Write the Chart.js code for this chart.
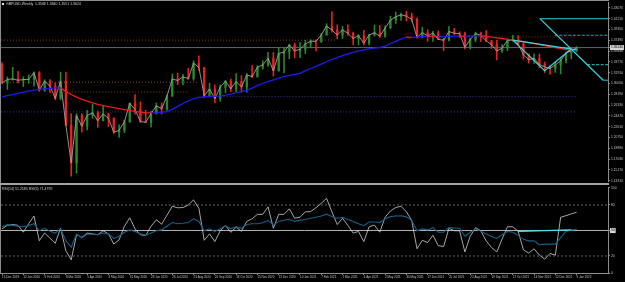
<!DOCTYPE html>
<html><head><meta charset="utf-8">
<script src="https://cdn.jsdelivr.net/npm/chart.js@4.4.0/dist/chart.umd.min.js"></script>
<style>
html,body{margin:0;padding:0;background:#000;width:625px;height:282px;overflow:hidden;}
#wrap{position:relative;width:625px;height:282px;background:#000;}
canvas{position:absolute;left:0;}
#c1{top:0;}
#c2{top:185px;}
.ln{position:absolute;background:#8c8c8c;}
.ttl{position:absolute;font-family:'Liberation Sans',Arial,sans-serif;font-size:7px;color:#d0d0d0;white-space:nowrap;transform:scale(0.5);transform-origin:0 0;}
</style></head>
<body><div id="wrap">
<canvas id="c1" width="625" height="184"></canvas>
<canvas id="c2" width="625" height="97"></canvas>
<div class="ln" style="left:0;top:0;width:609px;height:1px;"></div>
<div class="ln" style="left:0;top:0;width:1px;height:274px;"></div>
<div class="ln" style="left:0;top:183px;width:609px;height:2px;background:#a4a4a4;"></div>
<div style="position:absolute;left:2px;top:3px;width:2px;height:2px;background:#e8e8e8;"></div>
<div class="ttl" style="left:6px;top:2px;">GBPUSD,Weekly&nbsp; 1.3568 1.3640 1.3551 1.3624</div>
<div class="ttl" style="left:2px;top:187px;">RSI(14) 51.2585 RSI(5) 71.4795</div>
</div>
<script>
// ---------- DATA ----------
const dateTicks = ['15 Dec 2019','12 Jan 2020','9 Feb 2020','8 Mar 2020','5 Apr 2020','3 May 2020','31 May 2020','28 Jun 2020','26 Jul 2020','23 Aug 2020','20 Sep 2020','18 Oct 2020','15 Nov 2020','13 Dec 2020','10 Jan 2021','7 Feb 2021','7 Mar 2021','4 Apr 2021','2 May 2021','30 May 2021','27 Jun 2021','25 Jul 2021','22 Aug 2021','19 Sep 2021','17 Oct 2021','14 Nov 2021','12 Dec 2021','9 Jan 2022'];
const priceTicks = [1.4307,1.4121,1.3935,1.3749,1.3563,1.3377,1.3191,1.3005,1.2819,1.2633,1.2447,1.2261,1.2075,1.1889,1.1703,1.1517,1.1331];
const lastPrice = 1.3624;
const rsiTicks = [0,20,50,80,100];
const rsiMarked = 50;

const opens = [1.3330,1.3015,1.3075,1.3085,1.3060,1.3072,1.3078,1.3190,1.2890,1.3045,
1.2960,1.2750,1.3045,1.2285,1.1635,1.2450,1.2270,1.2455,1.2500,1.2365,
1.2480,1.2405,1.2165,1.2200,1.2345,1.2665,1.2555,1.2350,1.2335,1.2485,
1.2620,1.2570,1.2790,1.3085,1.3055,1.3120,1.3090,1.3355,1.3280,1.2795,
1.2910,1.2745,1.2940,1.3045,1.2915,1.3040,1.2945,1.3150,1.3125,1.3285,
1.3325,1.3440,1.3225,1.3520,1.3550,1.3670,1.3565,1.3595,1.3685,1.3735,
1.3730,1.3840,1.3995,1.3925,1.3840,1.3930,1.3870,1.3780,1.3830,1.3700,
1.3840,1.3880,1.3820,1.3960,1.4095,1.4155,1.4190,1.4165,1.4110,1.3800,
1.3880,1.3825,1.3875,1.3765,1.3750,1.3900,1.3870,1.3865,1.3625,1.3765,
1.3865,1.3835,1.3740,1.3675,1.3565,1.3615,1.3745,1.3755,1.3685,1.3500,
1.3415,1.3440,1.3335,1.3290,1.3265,1.3325,1.3395,1.3530,1.3568];
const highs = [1.3364,1.3118,1.3285,1.3215,1.3120,1.3152,1.3207,1.3210,1.3070,1.3073,
1.3010,1.3201,1.3200,1.2485,1.2487,1.2486,1.2541,1.2648,1.2530,1.2615,
1.2495,1.2415,1.2295,1.2375,1.2670,1.2813,1.2687,1.2545,1.2525,1.2670,
1.2670,1.2805,1.3170,1.3185,1.3165,1.3267,1.3395,1.3482,1.3285,1.3008,
1.2982,1.2983,1.3058,1.3083,1.3177,1.3140,1.3177,1.3314,1.3310,1.3398,
1.3540,1.3539,1.3624,1.3625,1.3680,1.3703,1.3710,1.3745,1.3760,1.3757,
1.3865,1.4035,1.4241,1.4015,1.3990,1.4017,1.3890,1.3850,1.3920,1.3850,
1.4010,1.4005,1.4000,1.4165,1.4235,1.4220,1.4249,1.4220,1.4135,1.3975,
1.3930,1.3905,1.3910,1.3785,1.3985,1.3955,1.3895,1.3890,1.3785,1.3890,
1.3890,1.3915,1.3750,1.3750,1.3675,1.3775,1.3835,1.3832,1.3700,1.3515,
1.3515,1.3515,1.3375,1.3315,1.3375,1.3435,1.3550,1.3600,1.3640];
const lows = [1.2999,1.2904,1.3060,1.3012,1.2953,1.3008,1.2961,1.2872,1.2870,1.2848,
1.2726,1.2725,1.2280,1.1409,1.1460,1.2167,1.2207,1.2405,1.2247,1.2360,
1.2265,1.2145,1.2076,1.2160,1.2335,1.2475,1.2335,1.2335,1.2252,1.2480,
1.2480,1.2540,1.2780,1.2985,1.2980,1.3075,1.3060,1.3235,1.2762,1.2770,
1.2676,1.2700,1.2845,1.2863,1.2863,1.2855,1.2855,1.3105,1.3110,1.3250,
1.3300,1.3134,1.3215,1.3188,1.3430,1.3450,1.3450,1.3520,1.3620,1.3565,
1.3710,1.3840,1.3890,1.3775,1.3780,1.3835,1.3670,1.3670,1.3670,1.3670,
1.3820,1.3800,1.3800,1.3950,1.4040,1.4090,1.4080,1.4075,1.3787,1.3790,
1.3730,1.3730,1.3760,1.3570,1.3740,1.3850,1.3800,1.3600,1.3600,1.3725,
1.3725,1.3730,1.3610,1.3412,1.3540,1.3570,1.3735,1.3670,1.3425,1.3355,
1.3350,1.3280,1.3195,1.3160,1.3195,1.3170,1.3360,1.3430,1.3551];
const closes = [1.3015,1.3075,1.3085,1.3060,1.3072,1.3078,1.3190,1.2890,1.3045,1.2960,
1.2750,1.3045,1.2285,1.1635,1.2450,1.2270,1.2455,1.2500,1.2365,1.2480,
1.2405,1.2165,1.2200,1.2345,1.2665,1.2555,1.2350,1.2335,1.2485,1.2620,
1.2570,1.2790,1.3085,1.3055,1.3120,1.3090,1.3355,1.3280,1.2795,1.2910,
1.2745,1.2940,1.3045,1.2915,1.3040,1.2945,1.3150,1.3125,1.3285,1.3325,
1.3440,1.3225,1.3520,1.3550,1.3670,1.3565,1.3595,1.3685,1.3735,1.3730,
1.3840,1.3995,1.3925,1.3840,1.3930,1.3870,1.3780,1.3830,1.3700,1.3840,
1.3880,1.3820,1.3960,1.4095,1.4155,1.4190,1.4165,1.4110,1.3800,1.3880,
1.3825,1.3875,1.3765,1.3750,1.3900,1.3870,1.3865,1.3625,1.3765,1.3865,
1.3835,1.3740,1.3675,1.3565,1.3615,1.3745,1.3755,1.3685,1.3500,1.3415,
1.3440,1.3335,1.3290,1.3265,1.3325,1.3395,1.3530,1.3568,1.3624];
const maValues = [1.2774,1.2795,1.2815,1.2835,1.2855,1.2873,1.2890,1.2903,1.2914,1.2922,
1.2928,1.2930,1.2868,1.2815,1.2770,1.2730,1.2700,1.2670,1.2645,1.2625,
1.2605,1.2590,1.2572,1.2555,1.2540,1.2525,1.2510,1.2503,1.2500,1.2502,
1.2510,1.2521,1.2560,1.2610,1.2660,1.2705,1.2742,1.2765,1.2776,1.2782,
1.2787,1.2792,1.2805,1.2822,1.2842,1.2865,1.2888,1.2925,1.2968,1.3005,
1.3038,1.3068,1.3098,1.3122,1.3145,1.3163,1.3180,1.3222,1.3263,1.3300,
1.3340,1.3380,1.3418,1.3452,1.3485,1.3515,1.3540,1.3563,1.3584,1.3602,
1.3614,1.3625,1.3650,1.3690,1.3730,1.3770,1.3802,1.3797,1.3804,1.3811,
1.3817,1.3815,1.3812,1.3813,1.3816,1.3820,1.3823,1.3819,1.3820,1.3826,
1.3831,1.3818,1.3805,1.3792,1.3780,1.3766,1.3751,1.3738,1.3724,1.3708,
1.3692,1.3675,1.3658,1.3640,1.3622,1.3605,1.3588,1.3570,1.3576];
const rsiFast = [52,56,57,56,48,58,67,38,47,41,
35,53,26,15.5,45,42,47,46,45,49.7,
46,34,39,55,65,52,45,44,55,62.6,
57.4,68,78.5,76.7,77,80,86,76,38.5,46,
37,49.7,56,47.8,54,49,60.7,63.7,69,69,
77.8,52.6,69,69,75.5,64.4,65.6,71.9,72.2,76.7,
82,87.8,72,57,64.4,56,47,48.9,37,54.4,
56.3,48,65.6,73,77,78.5,72,62,28.5,38.5,
35.9,44.4,32.2,31.1,52.6,49.7,49.7,24.8,43.3,53.3,
49.7,37.8,30,24.8,40,54.4,54.4,49,27.4,23.3,
28.5,21.1,16.3,23,21,65.6,67.4,69.5,71.48];
const rsiSlow = [54.4,57,56,55,54.4,56,58,49.7,52.6,49,
47,51.9,37.8,30.4,45.9,41.5,45.9,45.5,45.2,47,
46,40.7,43.3,48,50.7,48.9,46,44.4,47,49.7,
50.7,55,59.3,58,58.5,59.3,63.7,60.7,49.7,52,
48.9,52,55.6,52,54.4,52.6,57,58,58,59,
61.9,56.3,60.7,62,63,60.7,61.9,63,64.4,65.6,
67,69.2,66.5,64.4,65.6,63,60.7,58,55.6,60,
60,59.3,63.7,66.3,67,67.4,66,62,49.7,51.9,
50.7,53.3,48,48,53.3,53,52.6,43.3,48,52,
49,46,43,40.7,45,48.9,48,44,39.6,37.8,
37.8,33.3,34,34,34,41.5,48.9,50.5,51.26];

// drawn horizontal levels (price, from week index, to week index)
const levelPrices = [1.3752, 1.3807, 1.3027, 1.2858, 1.2782, 1.2515];
const levelStart  = [-0.2, 86, -0.2, 11.5, 40.5, -0.2];
const levelEnd    = [63, 108, 37, 35, 108, 108];
// drawn pattern (week index, price)
const patternIdx = [96, 102, 107];
const patternPrice = [1.3751, 1.3224, 1.3600];
const baseIdx = [96, 108];
const basePrice = [1.3751, 1.3583];
const projIdx = [101.1, 113];
const projPrice = [1.4122, 1.3061];
const targetPrice = [1.4122, 1.3836, 1.3330, 1.3061];
const targetStart = [101.1, 103.9, 110, 113];
// RSI trend line and levels
const rsiTrendIdx = [97, 107];
const rsiTrendVal = [48.9, 50.7];
const rsiDashedLevels = [80, 20];
const rsiMidLevel = 50;

// ---------- STYLE ----------
const xMin = -0.2, xMax = 113.9;
const priceMin = 1.1325, priceMax = 1.4392;
const C = {
  up:'#2a8a2a', down:'#f02020', close:'#a0a0a0', maUp:'#1c1cf0', maDown:'#f01818',
  cyan:'#3ad8dc', teal:'#17a6a8', brown:'#8a3c1e', navy:'#34349a', priceLine:'#5c6670',
  axis:'#8c8c8c', text:'#c0c0c0', rsiFast:'#cfcfcf', rsiSlow:'#175f88', rsiTrend:'#48e6ee',
  rsiDash:'#7c7c7c', rsiMid:'#b4b4b4'
};
const levelColors = [C.brown, C.brown, C.brown, C.brown, C.navy, C.navy];
const targetDashed = [false, true, true, false];
const FONT = "'Liberation Sans', Arial, sans-serif";

Chart.defaults.font.family = FONT;
Chart.defaults.elements.point.radius = 0;
Chart.defaults.elements.point.hoverRadius = 0;
Chart.defaults.elements.line.tension = 0;

const idx = closes.map((_, i) => i);
const pts = (xs, ys) => xs.map((x, i) => ({x, y: ys[i]}));
const seg = (xs, ys, color, width, dash, order) => ({type:'line', data: pts(xs, ys), borderColor: color, borderWidth: width, borderDash: dash, order, fill:false});
const candleColor = c => closes[c.dataIndex] >= opens[c.dataIndex] ? C.up : C.down;

const mainSets = [];
mainSets.push(seg(patternIdx, patternPrice, C.cyan, 1.2, [], 0));
mainSets.push(seg(baseIdx, basePrice, C.cyan, 1.2, [], 0));
mainSets.push(seg(projIdx, projPrice, C.cyan, 1.2, [], 0));
targetPrice.forEach((p, i) => mainSets.push(seg([targetStart[i], xMax], [p, p], C.teal, 1.2, targetDashed[i] ? [3, 1.5] : [], 0)));
mainSets.push({type:'line', data: pts(idx, maValues), borderColor: C.maUp, borderWidth: 1.3, order: 1,
  segment: {borderColor: c => c.p1.parsed.y < c.p0.parsed.y ? C.maDown : C.maUp}});
mainSets.push({type:'line', data: pts(idx, closes), borderColor: C.close, borderWidth: 0.9, order: 2});
mainSets.push({type:'bar', data: idx.map(i => ({x: i, y: [opens[i], closes[i]]})), backgroundColor: candleColor, barThickness: 1.6, grouped: false, order: 3});
mainSets.push({type:'bar', data: idx.map(i => ({x: i, y: [lows[i], highs[i]]})), backgroundColor: candleColor, barThickness: 0.9, grouped: false, order: 4});
levelPrices.forEach((p, i) => mainSets.push(seg([levelStart[i], levelEnd[i]], [p, p], levelColors[i], 1, [1, 2], 5)));
mainSets.push(seg([xMin, xMax], [lastPrice, lastPrice], C.priceLine, 1, [], 6));

const common = {
  responsive: false, animation: false, events: [],
  plugins: {legend: {display: false}, tooltip: {enabled: false}, title: {display: false}},
};

new Chart(document.getElementById('c1'), {
  type: 'line',
  data: {datasets: mainSets},
  options: Object.assign({}, common, {
    layout: {padding: {left: 1, top: 1, right: 0, bottom: 1}},
    scales: {
      x: {type: 'linear', min: xMin, max: xMax, display: false, offset: false},
      y: {type: 'linear', position: 'right', min: priceMin, max: priceMax,
        afterFit: s => { s.width = 17; },
        afterBuildTicks: s => { s.ticks = priceTicks.map(v => ({value: v})).concat([{value: lastPrice}]); },
        grid: {drawOnChartArea: false, drawTicks: true, tickLength: 2, color: C.axis},
        border: {display: true, color: C.axis},
        ticks: {autoSkip: false, padding: 1, font: {size: 3.3},
          color: c => c.tick && c.tick.value === lastPrice ? '#000' : C.text,
          showLabelBackdrop: c => !!(c.tick && c.tick.value === lastPrice),
          backdropColor: '#d4d4d4', backdropPadding: {x: 1, y: 0.6},
          callback: v => Number(v).toFixed(5)}
      }
    }
  })
});

const rsiSets = [];
rsiSets.push(seg(rsiTrendIdx, rsiTrendVal, C.rsiTrend, 1.4, [], 0));
rsiSets.push({type:'line', data: pts(idx, rsiSlow), borderColor: C.rsiSlow, borderWidth: 1.1, order: 1});
rsiSets.push({type:'line', data: pts(idx, rsiFast), borderColor: C.rsiFast, borderWidth: 0.8, order: 2});
rsiDashedLevels.forEach(v => rsiSets.push(seg([xMin, xMax], [v, v], C.rsiDash, 0.8, [2, 2], 3)));
rsiSets.push(seg([xMin, xMax], [rsiMidLevel, rsiMidLevel], C.rsiMid, 1, [], 3));

new Chart(document.getElementById('c2'), {
  type: 'line',
  data: {datasets: rsiSets},
  options: Object.assign({}, common, {
    layout: {padding: {left: 1, top: 1, right: 0, bottom: 0}},
    scales: {
      x: {type: 'linear', position: 'bottom', min: xMin, max: xMax, offset: false,
        afterFit: s => { s.height = 9; },
        afterBuildTicks: s => { s.ticks = dateTicks.map((_, i) => ({value: i * 4})); },
        grid: {drawOnChartArea: false, drawTicks: true, tickLength: 2, color: C.axis},
        border: {display: true, color: C.axis},
        ticks: {autoSkip: false, maxRotation: 0, minRotation: 0, align: 'start', padding: 0.5,
          font: {size: 3}, color: C.text, callback: (v, i) => dateTicks[i]}
      },
      y: {type: 'linear', position: 'right', min: 0, max: 100,
        afterFit: s => { s.width = 17; },
        afterBuildTicks: s => { s.ticks = rsiTicks.map(v => ({value: v})); },
        grid: {drawOnChartArea: false, drawTicks: true, tickLength: 2, color: C.axis},
        border: {display: true, color: C.axis},
        ticks: {autoSkip: false, padding: 1, font: {size: 3.3},
          color: c => c.tick && c.tick.value === rsiMarked ? '#000' : C.text,
          showLabelBackdrop: c => !!(c.tick && c.tick.value === rsiMarked),
          backdropColor: '#d4d4d4', backdropPadding: {x: 1, y: 0.6},
          callback: v => String(v)}
      }
    }
  })
});
</script>
</body></html>
